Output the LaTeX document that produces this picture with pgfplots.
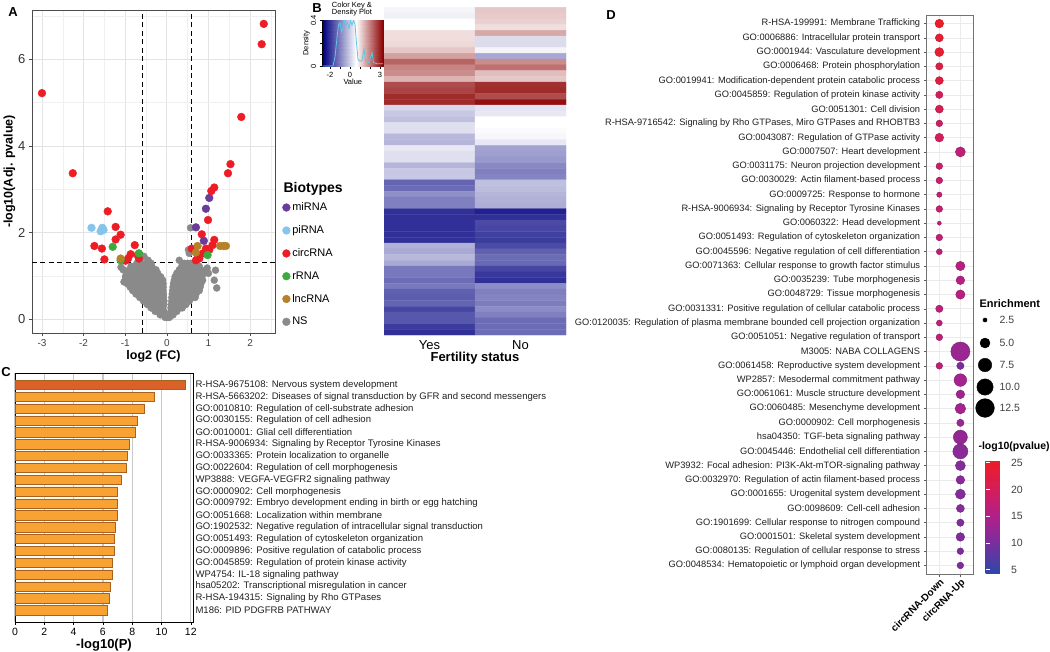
\documentclass[border=0pt]{standalone}
\usepackage{pgfplots}
\pgfplotsset{compat=1.18}
\usepackage{fontspec}
\setmainfont{Liberation Sans}
\definecolor{vRed}{HTML}{EE1C25}
\definecolor{vPurple}{HTML}{6A3D9A}
\definecolor{vBlue}{HTML}{85C4EC}
\definecolor{vGreen}{HTML}{3DAA3D}
\definecolor{vBrown}{HTML}{B5822A}
\definecolor{vGray}{HTML}{8A8A8A}
\definecolor{barOr}{HTML}{F7A233}
\definecolor{barTop}{HTML}{DA6128}
\definecolor{barEdge}{HTML}{A8611E}
\definecolor{keyLine}{HTML}{5CC8E6}
\pgfplotsset{/pgf/number format/assume math mode=true}
\pgfplotsset{colormap={heat}{rgb255(0pt)=(0,0,128); rgb255(333pt)=(255,255,255); rgb255(603pt)=(139,0,0)}}
\pgfplotsset{colormap={dotmap}{rgb255(0pt)=(44,72,168); rgb255(56pt)=(122,46,158); rgb255(106pt)=(176,32,138); rgb255(156pt)=(212,30,90); rgb255(211pt)=(238,28,36)}}
\begin{document}
\begin{tikzpicture}
\path[use as bounding box] (0pt,0pt) rectangle (1050pt,-651pt);

% ---------------- Panel A: volcano ----------------
\begin{axis}[at={(32pt,-333pt)}, anchor=south west, scale only axis,
  width=243pt, height=323pt,
  xmin=-3.24, xmax=2.6, ymin=-0.32, ymax=7.14,
  xtick={-3,-2,-1,0,1,2}, ytick={0,2,4,6},
  minor xtick={-2.5,-1.5,-0.5,0.5,1.5,2.5}, minor ytick={1,3,5,7},
  grid=both, major grid style={black!11, line width=0.8pt}, minor grid style={black!6, line width=0.5pt},
  axis line style={black!70, line width=0.6pt},
  tick style={black!70, line width=0.6pt}, tick align=outside, major tick length=3pt, minor tick length=0pt,
  xtick pos=left, ytick pos=left,
  xticklabel style={font=\fontsize{10}{10}\selectfont, text=black!75},
  yticklabel style={font=\fontsize{13}{13}\selectfont, text=black!80},
  xlabel={log2 (FC)}, ylabel={-log10(Adj. pvalue)},
  xlabel style={font=\bfseries\fontsize{12.5}{12.5}\selectfont, yshift=3pt},
  ylabel style={font=\bfseries\fontsize{12.5}{12.5}\selectfont, yshift=-4pt},
  legend style={at={(1.03,0.41)}, anchor=north west, draw=none, fill=none, inner sep=0pt,
    font=\fontsize{11}{11}\selectfont, row sep=9.5pt},
  legend cell align=left,
  clip=false]
\draw[black, dash pattern=on 5pt off 3.5pt, line width=1pt] (axis cs:-0.585,-0.32) -- (axis cs:-0.585,7.14);
\draw[black, dash pattern=on 5pt off 3.5pt, line width=1pt] (axis cs:0.585,-0.32) -- (axis cs:0.585,7.14);
\draw[black, dash pattern=on 5pt off 3.5pt, line width=1pt] (axis cs:-3.24,1.301) -- (axis cs:2.6,1.301);
\addplot[only marks, mark=*, mark size=3.5pt, vGray, forget plot] coordinates {
(-0.04,0.04) (0.02,0.04) (0.06,0.04)
(-0.16,0.1) (-0.1,0.1) (-0.04,0.1) (0.09,0.1) (0.15,0.1)
(-0.28,0.18) (-0.21,0.18) (-0.14,0.18) (-0.07,0.18) (0.1,0.18) (0.17,0.18) (0.24,0.18)
(-0.38,0.26) (-0.31,0.26) (-0.24,0.26) (-0.17,0.26) (-0.1,0.26) (0.1,0.26) (0.17,0.26) (0.24,0.26) (0.31,0.26) (0.37,0.26)
(-0.47,0.34) (-0.4,0.34) (-0.33,0.34) (-0.26,0.34) (-0.19,0.34) (-0.12,0.34) (-0.07,0.34)
(0.11,0.34) (0.18,0.34) (0.25,0.34) (0.32,0.34) (0.39,0.34) (0.46,0.34)
(-0.56,0.42) (-0.49,0.42) (-0.42,0.42) (-0.35,0.42) (-0.28,0.42) (-0.21,0.42) (-0.14,0.42) (-0.07,0.42)
(0.12,0.42) (0.19,0.42) (0.26,0.42) (0.33,0.42) (0.4,0.42) (0.47,0.42) (0.54,0.42)
(-0.65,0.5) (-0.58,0.5) (-0.51,0.5) (-0.44,0.5) (-0.37,0.5) (-0.3,0.5) (-0.23,0.5) (-0.16,0.5) (-0.08,0.5)
(0.12,0.5) (0.19,0.5) (0.26,0.5) (0.33,0.5) (0.4,0.5) (0.47,0.5) (0.54,0.5) (0.61,0.5) (0.68,0.5)
(-0.74,0.58) (-0.66,0.58) (-0.58,0.58) (-0.5,0.58) (-0.43,0.58) (-0.36,0.58) (-0.29,0.58) (-0.22,0.58) (-0.15,0.58) (-0.08,0.58)
(0.13,0.58) (0.2,0.58) (0.27,0.58) (0.34,0.58) (0.41,0.58) (0.48,0.58) (0.55,0.58) (0.62,0.58) (0.7,0.58)
(-0.82,0.66) (-0.74,0.66) (-0.66,0.66) (-0.58,0.66) (-0.5,0.66) (-0.42,0.66) (-0.34,0.66) (-0.26,0.66) (-0.18,0.66) (-0.09,0.66)
(0.14,0.66) (0.21,0.66) (0.28,0.66) (0.35,0.66) (0.42,0.66) (0.49,0.66) (0.56,0.66) (0.63,0.66) (0.71,0.66) (0.78,0.66)
(-0.88,0.74) (-0.8,0.74) (-0.72,0.74) (-0.64,0.74) (-0.56,0.74) (-0.48,0.74) (-0.4,0.74) (-0.32,0.74) (-0.24,0.74) (-0.16,0.74) (-0.09,0.74)
(0.15,0.74) (0.22,0.74) (0.29,0.74) (0.36,0.74) (0.43,0.74) (0.5,0.74) (0.57,0.74) (0.64,0.74) (0.72,0.74) (0.8,0.74)
(-0.95,0.82) (-0.87,0.82) (-0.79,0.82) (-0.71,0.82) (-0.63,0.82) (-0.55,0.82) (-0.47,0.82) (-0.39,0.82) (-0.31,0.82) (-0.23,0.82) (-0.15,0.82) (-0.09,0.82)
(0.16,0.82) (0.23,0.82) (0.3,0.82) (0.37,0.82) (0.44,0.82) (0.51,0.82) (0.58,0.82) (0.66,0.82) (0.74,0.82) (0.82,0.82)
(-1.0,0.9) (-0.92,0.9) (-0.84,0.9) (-0.76,0.9) (-0.68,0.9) (-0.6,0.9) (-0.52,0.9) (-0.44,0.9) (-0.36,0.9) (-0.28,0.9) (-0.2,0.9) (-0.1,0.9)
(0.18,0.9) (0.25,0.9) (0.32,0.9) (0.39,0.9) (0.46,0.9) (0.53,0.9) (0.6,0.9) (0.68,0.9) (0.76,0.9) (0.86,0.9)
(-0.98,0.98) (-0.9,0.98) (-0.82,0.98) (-0.74,0.98) (-0.66,0.98) (-0.58,0.98) (-0.5,0.98) (-0.42,0.98) (-0.34,0.98) (-0.26,0.98) (-0.15,0.98)
(0.2,0.98) (0.28,0.98) (0.36,0.98) (0.44,0.98) (0.52,0.98) (0.6,0.98) (0.68,0.98) (0.76,0.98) (0.84,0.98)
(-0.96,1.06) (-0.88,1.06) (-0.8,1.06) (-0.72,1.06) (-0.64,1.06) (-0.56,1.06) (-0.48,1.06) (-0.4,1.06) (-0.32,1.06) (-0.22,1.06)
(0.24,1.06) (0.32,1.06) (0.4,1.06) (0.48,1.06) (0.56,1.06) (0.64,1.06) (0.72,1.06) (0.8,1.06) (0.9,1.06)
(-1.05,1.14) (-0.9,1.14) (-0.8,1.14) (-0.72,1.14) (-0.62,1.14) (-0.52,1.14) (-0.44,1.14) (-0.36,1.14) (-0.26,1.14)
(0.3,1.14) (0.38,1.14) (0.46,1.14) (0.54,1.14) (0.62,1.14) (0.7,1.14) (0.8,1.14) (0.94,1.14)
(-0.86,1.22) (-0.76,1.22) (-0.66,1.22) (-0.56,1.22) (-0.46,1.22) (-0.36,1.22)
(0.36,1.22) (0.44,1.22) (0.52,1.22) (0.6,1.22) (0.68,1.22) (0.78,1.22)
(-0.72,1.29) (-0.6,1.29) (-0.48,1.29) (-0.38,1.29) (0.42,1.29) (0.5,1.29) (0.58,1.29)
(-1.03,0.86) (-0.99,0.99) (-1.1,1.2) (-0.45,1.36) (-0.55,1.45) (-0.6,1.25)
(1.14,0.9) (1.17,1.13) (0.97,1.18) (1.0,1.06) (1.2,0.72) (0.3,1.36) (0.54,1.52) (0.57,2.11) (0.52,1.6)
};
\addplot[only marks, mark=*, mark size=3.9pt, vPurple] coordinates {(1.02,2.8) (0.94,2.55) (0.7,2.12) (0.89,1.81)};
\addlegendentry{miRNA}
\addplot[only marks, mark=*, mark size=3.9pt, vBlue] coordinates {(-1.81,2.11) (-1.55,2.11) (-1.59,2.03) (-1.52,2.06)};
\addlegendentry{piRNA}
\addplot[only marks, mark=*, mark size=3.9pt, vRed] coordinates {
(2.33,6.82) (2.28,6.35) (-3.0,5.22) (1.79,4.67) (-2.26,3.37) (1.53,3.58) (1.47,3.37) (1.14,3.04) (1.07,2.96)
(0.99,2.29) (-1.42,2.49) (-1.23,2.13) (-1.11,1.95) (-1.23,1.84) (-1.74,1.69) (-1.56,1.63) (-1.5,1.38)
(-0.77,1.71) (-0.87,1.5) (-0.99,1.35) (-0.7,1.48) (-0.67,1.4) (-0.93,1.4)
(0.84,1.96) (1.14,1.83) (1.1,1.71) (1.02,1.6) (0.87,1.52) (0.78,1.4) (0.7,1.36) (0.6,1.63) (0.94,1.63) (0.74,1.5)};
\addlegendentry{circRNA}
\addplot[only marks, mark=*, mark size=3.9pt, vGreen] coordinates {(-1.3,1.67) (-1.11,1.36) (-0.67,1.52) (0.98,1.48)};
\addlegendentry{rRNA}
\addplot[only marks, mark=*, mark size=3.9pt, vBrown] coordinates {(-1.11,1.4) (0.74,1.69) (0.7,1.54) (1.28,1.69) (1.36,1.69) (1.42,1.69)};
\addlegendentry{lncRNA}
\addlegendimage{only marks, mark=*, mark size=3.9pt, vGray}
\addlegendentry{NS}
\end{axis}
\node[anchor=west, font=\bfseries\fontsize{14}{14}\selectfont] at (280pt,-189pt) {Biotypes};

% ---------------- Panel B: heatmap ----------------
\begin{axis}[at={(384pt,-335pt)}, anchor=south west, scale only axis,
  width=182pt, height=327.7pt,
  xmin=-0.5, xmax=1.5, ymin=-0.5, ymax=56.5, y dir=reverse,
  colormap name=heat, point meta min=-2.73, point meta max=3.3,
  xtick={0,1}, xticklabels={Yes,No}, ytick=\empty,
  axis line style={draw=none}, major tick length=0pt,
  xticklabel style={font=\fontsize{13}{13}\selectfont, yshift=-2pt},
  xlabel={Fertility status}, xlabel style={font=\bfseries\fontsize{13}{13}\selectfont, yshift=4pt}]
\addplot[matrix plot*, mesh/cols=2, point meta=explicit] table[meta=v] {
x y v
0 0 0.45
1 0 1.19
0 1 0.40
1 1 1.15
0 2 0.60
1 2 1.10
0 3 0.60
1 3 0.95
0 4 0.95
1 4 1.52
0 5 0.95
1 5 0.14
0 6 1.00
1 6 0.14
0 7 1.19
1 7 0.45
0 8 1.60
1 8 -0.53
0 9 2.24
1 9 1.82
0 10 1.90
1 10 2.10
0 11 1.82
1 11 1.30
0 12 1.40
1 12 1.19
0 13 2.50
1 13 2.79
0 14 2.58
1 14 2.84
0 15 2.84
1 15 2.50
0 16 2.84
1 16 3.13
0 17 0.09
1 17 0.25
0 18 -0.12
1 18 0.30
0 19 -0.23
1 19 0.60
0 20 0.18
1 20 0.60
0 21 0.18
1 21 0.55
0 22 -0.33
1 22 0.50
0 23 -0.36
1 23 0.30
0 24 0.30
1 24 -0.60
0 25 0.18
1 25 -0.65
0 26 0.18
1 26 -0.75
0 27 -0.36
1 27 -0.96
0 28 -0.12
1 28 -1.06
0 29 -0.12
1 29 -1.00
0 30 -1.43
1 30 -0.23
0 31 -1.32
1 31 -0.28
0 32 -0.85
1 32 -0.36
0 33 -1.06
1 33 -0.42
0 34 -1.06
1 34 -0.47
0 35 -2.10
1 35 -2.30
0 36 -2.10
1 36 -2.10
0 37 -2.10
1 37 -1.75
0 38 -2.10
1 38 -1.80
0 39 -2.10
1 39 -1.90
0 40 -2.10
1 40 -1.95
0 41 -0.42
1 41 -1.75
0 42 -0.52
1 42 -1.47
0 43 -0.33
1 43 -1.32
0 44 -0.52
1 44 -1.37
0 45 -1.16
1 45 -1.80
0 46 -1.16
1 46 -2.00
0 47 -1.32
1 47 -2.10
0 48 -1.16
1 48 -0.90
0 49 -1.47
1 49 -1.06
0 50 -1.52
1 50 -1.00
0 51 -1.43
1 51 -1.10
0 52 -1.80
1 52 -0.90
0 53 -1.60
1 53 -1.06
0 54 -1.60
1 54 -1.32
0 55 -1.95
1 55 -1.32
0 56 -2.10
1 56 -1.32
};
\end{axis}

% ---------------- Color key ----------------
\begin{axis}[at={(322.7pt,-66pt)}, anchor=south west, scale only axis,
  width=60.3pt, height=46pt,
  xmin=-2.73, xmax=3.3, ymin=0, ymax=0.405,
  colormap name=heat, point meta min=-2.73, point meta max=3.3,
  xtick={-2,-1,0,1,2,3}, xticklabels={-2,,0,,,3},
  ytick={0,0.1,0.2,0.3,0.4}, yticklabels={0,,,,0.4},
  tick label style={font=\fontsize{7.5}{7.5}\selectfont},
  yticklabel style={rotate=90},
  xlabel={Value}, ylabel={Density},
  label style={font=\fontsize{7.5}{7.5}\selectfont},
  xlabel style={yshift=6pt}, ylabel style={yshift=-6pt},
  tick align=outside, major tick length=3pt, xtick pos=left, ytick pos=left,
  axis line style={black, line width=0.5pt}, tick style={black, line width=0.4pt}]
\addplot[surf, shader=interp, mesh/cols=3, point meta=explicit] table[meta=v] {
x y v
-2.73 0 -2.73
0.6 0 0.6
3.3 0 3.3
-2.73 0.405 -2.73
0.6 0.405 0.6
3.3 0.405 3.3
};
\addplot[keyLine, line width=0.8pt] coordinates {(-2.73,0.0) (-1.7,0.0) (-1.5,0.08) (-1.3,0.25) (-1.15,0.36) (-1.0,0.38) (-0.85,0.3) (-0.7,0.34) (-0.55,0.4) (-0.4,0.36) (-0.25,0.38) (-0.1,0.33) (0.05,0.4) (0.2,0.36) (0.35,0.4) (0.5,0.37) (0.65,0.2) (0.8,0.06) (1.0,0.04) (1.2,0.05) (1.4,0.15) (1.55,0.04) (1.9,0.03) (2.2,0.12) (2.35,0.03) (2.7,0.02) (3.3,0.02)};
\end{axis}
\node[align=center, font=\fontsize{7.5}{7.2}\selectfont, inner sep=0pt] at (352pt,-9pt) {Color Key \&\\Density Plot};

% ---------------- Panel C: bars ----------------
\begin{axis}[at={(15pt,-622pt)}, anchor=south west, scale only axis,
  width=178pt, height=249pt,
  xmin=0, xmax=12.15, ymin=-1, ymax=20, y dir=reverse,
  xbar, bar width=9.3pt, bar shift=0pt,
  xtick={0,2,4,6,8,10,12}, ytick={0,...,19},
  yticklabels={R-HSA-9675108: Nervous system development,
    R-HSA-5663202: Diseases of signal transduction by GFR and second messengers,
    GO:0010810: Regulation of cell-substrate adhesion,
    GO:0030155: Regulation of cell adhesion,
    GO:0010001: Glial cell differentiation,
    R-HSA-9006934: Signaling by Receptor Tyrosine Kinases,
    GO:0033365: Protein localization to organelle,
    GO:0022604: Regulation of cell morphogenesis,
    WP3888: VEGFA-VEGFR2 signaling pathway,
    GO:0000902: Cell morphogenesis,
    GO:0009792: Embryo development ending in birth or egg hatching,
    GO:0051668: Localization within membrane,
    GO:1902532: Negative regulation of intracellular signal transduction,
    GO:0051493: Regulation of cytoskeleton organization,
    GO:0009896: Positive regulation of catabolic process,
    GO:0045859: Regulation of protein kinase activity,
    WP4754: IL-18 signaling pathway,
    hsa05202: Transcriptional misregulation in cancer,
    R-HSA-194315: Signaling by Rho GTPases,
    M186: PID PDGFRB PATHWAY},
  yticklabel pos=right,
  yticklabel style={anchor=west, font=\fontsize{9.55}{9.55}\selectfont, text=black!88, xshift=-4pt},
  ytick style={draw=none},
  xmajorgrids, grid style={black!22, line width=1.3pt},
  axis line style={black, line width=0.7pt},
  xtick style={black, line width=0.6pt}, tick align=outside, major tick length=3pt, xtick pos=left,
  xticklabel style={font=\fontsize{10.5}{10.5}\selectfont},
  xlabel={-log10(P)}, xlabel style={font=\bfseries\fontsize{13}{13}\selectfont, yshift=4pt}]
\addplot[fill=barTop, draw=barEdge, line width=0.5pt] coordinates {(11.59,0)};
\addplot[fill=barOr, draw=barEdge, line width=0.5pt] coordinates {
(9.52,1) (8.84,2) (8.36,3) (8.20,4) (7.80,5) (7.64,6) (7.59,7) (7.25,8) (7.00,9) (7.00,10)
(6.98,11) (6.84,12) (6.75,13) (6.75,14) (6.66,15) (6.66,16) (6.48,17) (6.41,18) (6.32,19)};
\end{axis}

% ---------------- Panel D: dot plot ----------------
\begin{axis}[at={(926.7pt,-574pt)}, anchor=south west, scale only axis,
  width=46.3pt, height=559pt,
  xmin=0.4, xmax=2.6, ymin=0.4, ymax=39.6, y dir=reverse,
  xtick={1,2}, xticklabels={circRNA-Down,circRNA-Up},
  xticklabel style={rotate=45, anchor=north east, font=\bfseries\fontsize{10}{10}\selectfont, inner sep=0.5pt},
  ytick={1,...,39},
  yticklabels={R-HSA-199991: Membrane Trafficking,
    GO:0006886: Intracellular protein transport,
    GO:0001944: Vasculature development,
    GO:0006468: Protein phosphorylation,
    GO:0019941: Modification-dependent protein catabolic process,
    GO:0045859: Regulation of protein kinase activity,
    GO:0051301: Cell division,
    {R-HSA-9716542: Signaling by Rho GTPases, Miro GTPases and RHOBTB3},
    GO:0043087: Regulation of GTPase activity,
    GO:0007507: Heart development,
    GO:0031175: Neuron projection development,
    GO:0030029: Actin filament-based process,
    GO:0009725: Response to hormone,
    R-HSA-9006934: Signaling by Receptor Tyrosine Kinases,
    GO:0060322: Head development,
    GO:0051493: Regulation of cytoskeleton organization,
    GO:0045596: Negative regulation of cell differentiation,
    GO:0071363: Cellular response to growth factor stimulus,
    GO:0035239: Tube morphogenesis,
    GO:0048729: Tissue morphogenesis,
    GO:0031331: Positive regulation of cellular catabolic process,
    GO:0120035: Regulation of plasma membrane bounded cell projection organization,
    GO:0051051: Negative regulation of transport,
    M3005: NABA COLLAGENS,
    GO:0061458: Reproductive system development,
    WP2857: Mesodermal commitment pathway,
    GO:0061061: Muscle structure development,
    GO:0060485: Mesenchyme development,
    GO:0000902: Cell morphogenesis,
    hsa04350: TGF-beta signaling pathway,
    GO:0045446: Endothelial cell differentiation,
    WP3932: Focal adhesion: PI3K-Akt-mTOR-signaling pathway,
    GO:0032970: Regulation of actin filament-based process,
    GO:0001655: Urogenital system development,
    GO:0098609: Cell-cell adhesion,
    GO:1901699: Cellular response to nitrogen compound,
    GO:0001501: Skeletal system development,
    GO:0080135: Regulation of cellular response to stress,
    GO:0048534: Hematopoietic or lymphoid organ development},
  yticklabel style={font=\fontsize{9.3}{9.3}\selectfont, text=black!88},
  grid=major, grid style={black!8, line width=0.6pt},
  axis line style={black!55, line width=0.6pt},
  tick style={black!65, line width=0.5pt}, tick align=outside, major tick length=3pt,
  xtick pos=left, ytick pos=left,
  colormap name=dotmap, point meta min=4.4, point meta max=25.5,
  colorbar,
  colorbar style={at={(parent axis.north east)}, anchor=north west, xshift=4pt, yshift=-445pt,
    scale only axis, width=22pt, height=113pt,
    ytick={5,10,15,20,25},
    yticklabel style={font=\fontsize{10.5}{10.5}\selectfont, text=black!75},
    axis line style={draw=none}, major tick style={white, line width=0.6pt},
    major tick length=4pt, tick align=inside}]
\addplot[scatter, only marks, mark=*, point meta=explicit,
  visualization depends on={sqrt(8.3*\thisrow{e}-16.5)\as\rr},
  scatter/@pre marker code/.append style={/tikz/mark size=\rr pt}]
  table[x=x, y=y, meta=p] {
x y e p
1 1 4.25 25
1 2 3.92 24
1 3 4.43 24
1 4 3.6 22
1 5 3.92 22.5
1 6 3.6 20
1 7 3.92 20.5
1 8 3.33 19
1 9 4.25 20
1 11 3.33 18
1 12 3.33 18
1 13 2.85 17.5
1 14 3.33 18
1 15 2.47 17
1 16 3.33 17.5
1 17 3.07 17
1 21 3.6 17
1 22 3.07 16.5
1 23 3.33 17
1 25 3.33 17
2 10 5.0 17
2 18 4.6 16
2 19 4.25 16
2 20 4.6 16
2 24 13.0 13
2 25 3.6 10
2 26 6.8 14
2 27 4.25 13.5
2 28 5.4 14
2 29 3.6 13
2 30 7.9 12.5
2 31 8.8 11.5
2 32 5.0 11
2 33 4.25 11.5
2 34 5.0 11
2 35 3.92 11
2 36 3.6 10.5
2 37 4.25 10.5
2 38 3.33 10.5
2 39 3.33 10.5
};
\end{axis}

% ---------------- Enrichment size legend (pixel-coordinate axis) ----------------
\begin{axis}[at={(0pt,-651pt)}, anchor=south west, scale only axis,
  width=1050pt, height=651pt, xmin=0, xmax=1050, ymin=0, ymax=651, y dir=reverse,
  hide axis, clip=false]
\addplot[scatter, only marks, mark=*, point meta=explicit,
  scatter/use mapped color={draw=black, fill=black},
  visualization depends on={sqrt(8.3*\thisrow{e}-16.5)\as\rr},
  scatter/@pre marker code/.append style={/tikz/mark size=\rr pt}]
  table[x=x, y=y, meta=e] {
x y e
985 320 2.5
985 343 5.0
985 365 7.5
985 387 10.0
985 408 12.5
};
\end{axis}
\node[anchor=west, font=\bfseries\fontsize{11}{11}\selectfont] at (976pt,-304pt) {Enrichment};
\foreach \yy/\tt in {320/2.5, 343/5.0, 365/7.5, 387/10.0, 408/12.5}
  \node[anchor=west, font=\fontsize{10.5}{10.5}\selectfont, text=black!75] at (996pt,-\yy pt) {\tt};
\node[anchor=west, font=\bfseries\fontsize{10.5}{10.5}\selectfont] at (975pt,-447pt) {-log10(pvalue)};

% panel letters
\node[font=\bfseries\fontsize{13}{13}\selectfont] at (13pt,-12pt) {A};
\node[font=\bfseries\fontsize{13}{13}\selectfont] at (317pt,-8pt) {B};
\node[font=\bfseries\fontsize{13}{13}\selectfont] at (6pt,-372pt) {C};
\node[font=\bfseries\fontsize{13}{13}\selectfont] at (611pt,-15pt) {D};
\end{tikzpicture}
\end{document}
